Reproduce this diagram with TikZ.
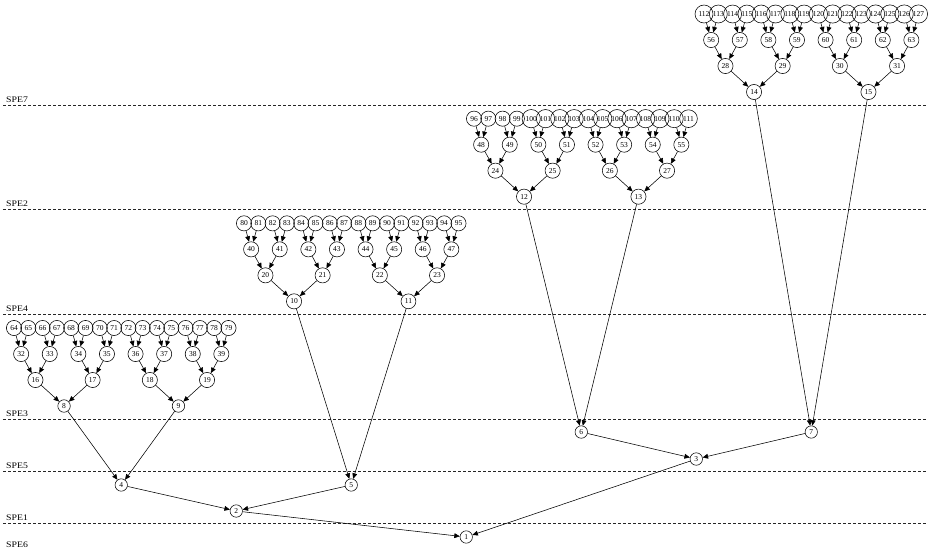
\documentclass[tikz,border=0pt]{standalone}
\usepackage{fontspec}
\setmainfont{Liberation Serif}
\newfontfamily\bandfont[FakeStretch=1.15]{Liberation Serif}
\usetikzlibrary{arrows.meta}
\begin{document}
\begin{tikzpicture}[x=1pt,y=-1pt,
  vtx/.style={circle,draw,line width=0.55pt,inner sep=2.2pt,minimum size=10.5pt,
    font=\fontsize{7.5}{7.5}\selectfont},
  edge/.style={line width=0.55pt,-{Triangle[length=5.5pt,width=4.8pt]}},
  sep/.style={line width=0.9pt,black!85,dash pattern=on 3pt off 2pt},
  bandlabel/.style={anchor=base west,inner sep=0pt,
    font=\bandfont\fontsize{8.5}{8.5}\selectfont}]
\useasboundingbox (0,0) rectangle (928,549);

% processor bands: separators and their names
\foreach \yy/\t in {105/SPE7,209.7/SPE2,314.3/SPE4,419/SPE3,471/SPE5,523/SPE1} {
  \draw[sep] (3,\yy) -- (928,\yy);
  \node[bandlabel] (lbl\t) at (6,\yy-3) {\t};
}
\node[bandlabel] (lblSPE6) at (6,547) {SPE6};

% four subtrees of 15+16 nodes, one per band (levels 3 to 6)
\foreach \g/\dy in {1/91,2/65,4/39,8/13} {
  \pgfmathtruncatemacro\cnt{64/\g-1}
  \foreach \k in {0,...,\cnt} {
    \pgfmathtruncatemacro\nn{64/\g+\k}
    \pgfmathtruncatemacro\cl{\g*\k/16}
    \pgfmathsetmacro\xx{14+230*\cl+14.3*(\g*\k-16*\cl+(\g-1)/2)}
    \pgfmathsetmacro\yy{419-104.667*\cl-\dy}
    \node[vtx] (v\nn) at (\xx,\yy) {\nn};
  }
}

% top of the tree
\node[vtx] (v4) at (121.25,485) {4};
\node[vtx] (v5) at (351.25,485) {5};
\node[vtx] (v6) at (581.25,432) {6};
\node[vtx] (v7) at (811.25,432) {7};
\node[vtx] (v2) at (236.25,511) {2};
\node[vtx] (v3) at (696.25,459) {3};
\node[vtx] (v1) at (466.25,537) {1};

% every node points to its parent
\foreach \n in {2,...,127} {
  \pgfmathtruncatemacro\pp{\n/2}
  \draw[edge] (v\n) -- (v\pp);
}
\end{tikzpicture}
\end{document}
